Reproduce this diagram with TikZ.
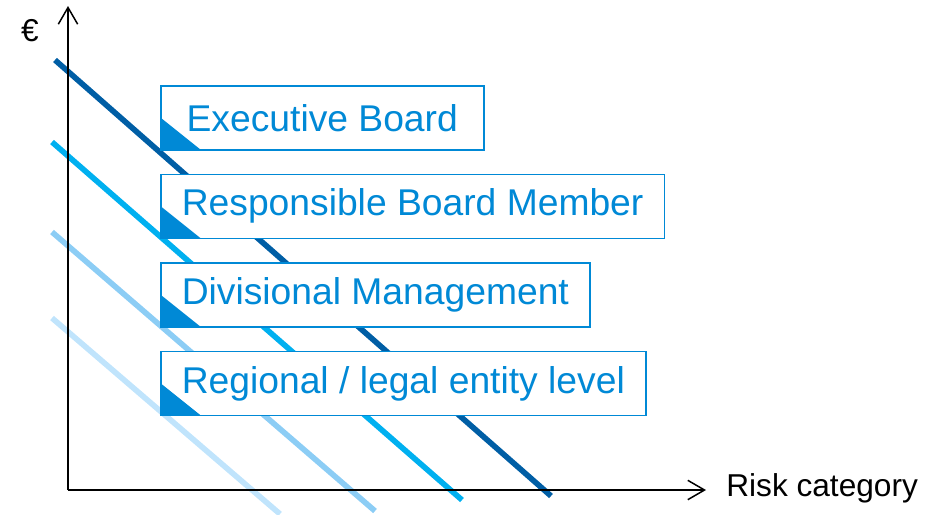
\documentclass[tikz,border=0pt]{standalone}
\usepackage{fontspec}
\setmainfont{Liberation Sans}
\usepackage{tikz}
\usetikzlibrary{positioning, arrows.meta}
\definecolor{BoxBlue}{RGB}{0,137,214}
\definecolor{LevelDark}{RGB}{0,94,165}
\definecolor{LevelCyan}{RGB}{0,176,240}
\definecolor{LevelLight}{RGB}{140,205,245}
\definecolor{LevelPale}{RGB}{192,228,252}
\tikzset{
  levelbox/.style={draw=BoxBlue, line width=0.9pt, fill=white, text=BoxBlue,
    minimum height=1.28cm, inner xsep=0.42cm, inner ysep=0pt, anchor=north west,
    font=\fontsize{21.2}{25}\selectfont,
    path picture={\fill[BoxBlue] (path picture bounding box.south west)
      -- ++(0cm,0.64cm) -- ++(0.8cm,-0.64cm) -- cycle;}},
  levelline/.style={line width=3.2pt},
  axisline/.style={line width=0.85pt, -{Straight Barb[length=9.5pt, width=11pt, line width=0.85pt]}},
  axislabel/.style={font=\fontsize{18}{22}\selectfont, inner sep=0pt},
}
\begin{document}
\begin{tikzpicture}[x=0.02cm, y=-0.02cm]
  \useasboundingbox (0,0) rectangle (936,514);
  % escalation lines
  \draw[levelline, LevelDark]  (55,60)  -- (551,496);
  \draw[levelline, LevelCyan]  (52,142) -- (462,500);
  \draw[levelline, LevelLight] (52,232) -- (375,511);
  \draw[levelline, LevelPale]  (52,318) -- (280,514);
  % axes
  \coordinate (origin) at (68,490);
  \coordinate (ytop) at (68,6);
  \coordinate (xend) at (706,490);
  \draw[axisline] (origin) -- (ytop);
  \draw[axisline] (origin) -- (xend);
  \node[axislabel] (euro) at (30,31) {€};
  \node[axislabel, anchor=west] (risk) at (726,488) {Risk category};
  % decision levels
  \node[levelbox, minimum width=6.46cm] (exec) at (160,85) {Executive Board};
  \node[levelbox, below=0.46cm of exec.south west, anchor=north west] (member) {Responsible Board Member};
  \node[levelbox, below=0.46cm of member.south west, anchor=north west] (division) {Divisional Management};
  \node[levelbox, below=0.46cm of division.south west, anchor=north west] (region) {Regional / legal entity level};
\end{tikzpicture}
\end{document}
